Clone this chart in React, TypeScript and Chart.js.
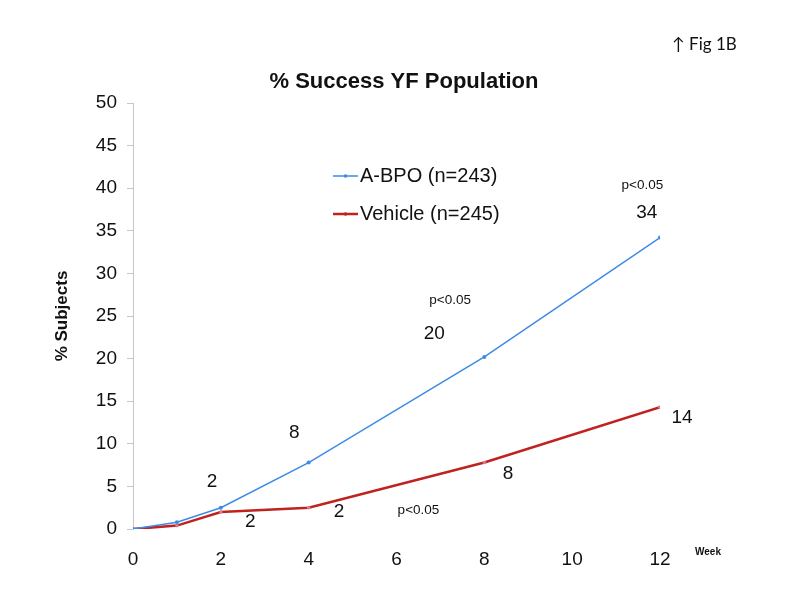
import React, { useEffect, useRef } from "react";
import { Chart, registerables } from "chart.js";

Chart.register(...registerables);

const weeks = [0, 1, 2, 4, 8, 12];
const abpoValues = [0, 0.8, 2.5, 7.8, 20.2, 34.2];
const vehicleValues = [0, 0.4, 2.0, 2.5, 7.8, 14.3];
const seriesNames = ["A-BPO (n=243)", "Vehicle (n=245)"];
const xTicks = [0, 2, 4, 6, 8, 10, 12];
const yTicks = [0, 5, 10, 15, 20, 25, 30, 35, 40, 45, 50];

const noteTexts = ["2", "2", "8", "2", "p<0.05", "8", "14", "p<0.05", "20", "p<0.05", "34"];
const noteWeeks = [1.8, 2.67, 3.67, 4.69, 6.5, 8.54, 12.5, 7.22, 6.86, 11.6, 11.7];
const noteValues = [5.5, 0.9, 11.3, 2.0, 2.2, 6.5, 13.0, 26.9, 22.9, 40.4, 37.1];

const BLUE = "#3d8be6";
const RED = "#c0221f";
const FONT = "'Liberation Sans', Arial, sans-serif";

const overlay = {
  id: "overlay",
  afterDraw(chart: any) {
    const ctx = chart.ctx;
    const xs = chart.scales.x;
    const ys = chart.scales.y;
    ctx.save();
    ctx.fillStyle = "#111";
    ctx.textAlign = "center";
    ctx.textBaseline = "middle";
    ctx.font = `bold 22px ${FONT}`;
    ctx.fillText("% Success YF Population", 404, 82);
    ctx.font = "17px Lato, 'Open Sans', sans-serif";
    ctx.textAlign = "left";
    ctx.fillText("\u2191 Fig 1B", 672, 45);
    ctx.save();
    ctx.translate(62, 316);
    ctx.rotate(-Math.PI / 2);
    ctx.textAlign = "center";
    ctx.font = `bold 17px ${FONT}`;
    ctx.fillText("% Subjects", 0, 0);
    ctx.restore();
    ctx.font = `bold 10px ${FONT}`;
    ctx.textAlign = "center";
    ctx.fillText("Week", 708, 552);
    for (let i = 0; i < noteTexts.length; i++) {
      const t = noteTexts[i];
      ctx.font = t.startsWith("p") ? `13.5px ${FONT}` : `19px ${FONT}`;
      ctx.fillText(t, xs.getPixelForValue(noteWeeks[i]), ys.getPixelForValue(noteValues[i]));
    }
    const items = [
      { name: seriesNames[0], color: BLUE, w: 1.5, y: 176 },
      { name: seriesNames[1], color: RED, w: 2.5, y: 214 },
    ];
    for (const it of items) {
      ctx.strokeStyle = it.color;
      ctx.lineWidth = it.w;
      ctx.beginPath();
      ctx.moveTo(333, it.y);
      ctx.lineTo(358, it.y);
      ctx.stroke();
      ctx.fillStyle = it.color;
      ctx.beginPath();
      ctx.arc(345.5, it.y, 1.8, 0, Math.PI * 2);
      ctx.fill();
      ctx.fillStyle = "#111";
      ctx.textAlign = "left";
      ctx.font = `20px ${FONT}`;
      ctx.fillText(it.name, 360, it.y);
    }
    ctx.restore();
  },
};

export default function App() {
  const ref = useRef<HTMLCanvasElement>(null);
  useEffect(() => {
    const chart = new Chart(ref.current!, {
      type: "line",
      data: {
        datasets: [
          {
            label: seriesNames[0],
            data: weeks.map((w, i) => ({ x: w, y: abpoValues[i] })),
            borderColor: BLUE,
            backgroundColor: BLUE,
            borderWidth: 1.5,
            pointRadius: 2,
            pointBorderWidth: 0,
            tension: 0,
          },
          {
            label: seriesNames[1],
            data: weeks.map((w, i) => ({ x: w, y: vehicleValues[i] })),
            borderColor: RED,
            backgroundColor: "#d77a8a",
            borderWidth: 2.5,
            pointRadius: 1.8,
            pointBorderWidth: 0,
            tension: 0,
          },
        ],
      },
      options: {
        responsive: false,
        animation: false,
        layout: { padding: { top: 103, right: 140, left: 0, bottom: 0 } },
        plugins: { legend: { display: false }, tooltip: { enabled: false }, title: { display: false } },
        scales: {
          x: {
            type: "linear",
            min: 0,
            max: 12,
            afterBuildTicks: (s: any) => {
              s.ticks = xTicks.map((v) => ({ value: v }));
            },
            grid: { display: false },
            border: { display: false },
            ticks: { color: "#111", font: { family: FONT, size: 19 }, padding: 11, maxRotation: 0 },
            afterFit: (s: any) => {
              s.height = 71;
            },
          },
          y: {
            min: 0,
            max: 50,
            afterBuildTicks: (s: any) => {
              s.ticks = yTicks.map((v) => ({ value: v }));
            },
            grid: { drawOnChartArea: false, drawTicks: true, tickLength: 6, color: "#c4c8cc" },
            border: { display: true, color: "#c4c8cc" },
            ticks: { color: "#111", font: { family: FONT, size: 19 }, padding: 10 },
            afterFit: (s: any) => {
              s.width = 133;
            },
          },
        },
      },
      plugins: [overlay],
    });
    return () => chart.destroy();
  }, []);
  return (
    <div style={{ position: "absolute", left: 0, top: 0, width: 800, height: 600, background: "#fff" }}>
      <canvas ref={ref} width={800} height={600} />
    </div>
  );
}
